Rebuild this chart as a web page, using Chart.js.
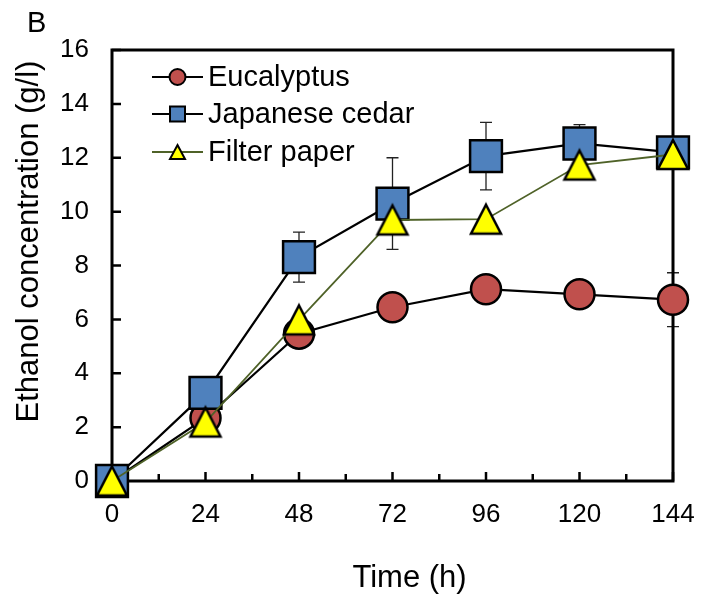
<!DOCTYPE html>
<html lang="en">
<head>
<meta charset="UTF-8">
<title>Ethanol concentration</title>
<script src="https://cdn.jsdelivr.net/npm/chart.js"></script>
<style>
  * { margin: 0; padding: 0; }
  body { background: #fff; }
  #chart { display: block; }
</style>
</head>
<body>
<canvas id="chart" width="719" height="600"></canvas>
<script>
const hours = [0, 24, 48, 72, 96, 120, 144];
const eucalyptus = [0, 2.34, 5.47, 6.45, 7.12, 6.93, 6.73];
const eucalyptusErr = [0, 0, 0, 0, 0, 0, 1.0];
const cedar = [0, 3.27, 8.31, 10.3, 12.06, 12.53, 12.2];
const cedarErr = [0, 0.6, 0.93, 1.7, 1.25, 0.7, 0];
const paper = [0, 2.19, 5.98, 9.69, 9.72, 11.73, 12.12];
const paperErr = [0, 0, 0, 0, 0, 0, 0];

const FONT = '"Liberation Sans", Arial, sans-serif';

// yellow triangle marker, centred on its bounding box
function triangle(w, h, lw) {
  const c = document.createElement('canvas');
  c.width = w + 12; c.height = h + 12;
  const ctx = c.getContext('2d');
  const cx = c.width / 2, cy = c.height / 2;
  ctx.beginPath();
  ctx.moveTo(cx, cy - h / 2);
  ctx.lineTo(cx + w / 2, cy + h / 2);
  ctx.lineTo(cx - w / 2, cy + h / 2);
  ctx.closePath();
  ctx.fillStyle = '#ffff00';
  ctx.fill();
  ctx.lineWidth = lw;
  ctx.lineJoin = 'miter';
  ctx.strokeStyle = '#000';
  ctx.stroke();
  return c;
}
const triBig = triangle(30, 29, 2.5);
const triSmall = triangle(15, 14, 2);

const pts = vals => hours.map((h, i) => ({ x: h, y: vals[i] }));

// frame, inward ticks and error bars, under the markers
const frame = {
  id: 'frame',
  beforeDatasetsDraw(chart) {
    const { ctx, chartArea: a, scales: { x, y } } = chart;
    ctx.save();
    chart.data.datasets.forEach(ds => {
      ctx.strokeStyle = '#222';
      ctx.lineWidth = 1.3;
      ds.err.forEach((e, i) => {
        if (!e) return;
        const px = x.getPixelForValue(hours[i]);
        const top = y.getPixelForValue(ds.data[i].y + e);
        const bot = y.getPixelForValue(ds.data[i].y - e);
        ctx.beginPath();
        ctx.moveTo(px, top); ctx.lineTo(px, bot);
        ctx.moveTo(px - 6, top); ctx.lineTo(px + 6, top);
        ctx.moveTo(px - 6, bot); ctx.lineTo(px + 6, bot);
        ctx.stroke();
      });
    });

    ctx.strokeStyle = '#000';
    ctx.lineWidth = 3;
    ctx.strokeRect(a.left, a.top, a.width, a.height);

    ctx.lineWidth = 2.5;
    ctx.beginPath();
    y.ticks.forEach(t => {
      const py = y.getPixelForValue(t.value);
      ctx.moveTo(a.left, py); ctx.lineTo(a.left + 9, py);
    });
    x.ticks.forEach((t, i) => {
      const px = x.getPixelForValue(t.value);
      ctx.moveTo(px, a.bottom); ctx.lineTo(px, a.bottom - 9);
      if (i > 0) {
        const mx = x.getPixelForValue((t.value + x.ticks[i - 1].value) / 2);
        ctx.moveTo(mx, a.bottom); ctx.lineTo(mx, a.bottom - 7);
      }
    });
    ctx.stroke();
    ctx.restore();
  },
  afterDraw(chart) {
    const { ctx } = chart;
    ctx.save();
    ctx.fillStyle = '#000';

    ctx.font = '29px ' + FONT;
    ctx.textAlign = 'left';
    ctx.textBaseline = 'alphabetic';
    ctx.fillText('B', 27, 32);

    ctx.font = '31px ' + FONT;
    ctx.textAlign = 'center';
    ctx.fillText('Time (h)', 409.5, 587);
    ctx.save();
    ctx.translate(38, 241.5);
    ctx.rotate(-Math.PI / 2);
    ctx.fillText('Ethanol concentration (g/l)', 0, 0);
    ctx.restore();

    // legend
    ctx.font = '29px ' + FONT;
    ctx.textAlign = 'left';
    ctx.textBaseline = 'middle';
    const rows = [77, 114, 152];
    chart.data.datasets.forEach((ds, i) => {
      const ry = rows[i];
      ctx.strokeStyle = ds.borderColor;
      ctx.lineWidth = ds.borderWidth;
      ctx.beginPath();
      ctx.moveTo(152, ry); ctx.lineTo(203, ry);
      ctx.stroke();
      ctx.strokeStyle = '#000';
      ctx.lineWidth = 2;
      ctx.fillStyle = ds.pointBackgroundColor || '#ffff00';
      if (ds.pointStyle === 'circle') {
        ctx.beginPath();
        ctx.arc(177.5, ry, 8, 0, Math.PI * 2);
        ctx.fill(); ctx.stroke();
      } else if (ds.pointStyle === 'rect') {
        ctx.fillRect(170, ry - 7.5, 15, 15);
        ctx.strokeRect(170, ry - 7.5, 15, 15);
      } else {
        ctx.drawImage(triSmall, 177.5 - triSmall.width / 2, ry - triSmall.height / 2);
      }
      ctx.fillStyle = '#000';
      ctx.fillText(ds.label, 208, ry + 1);
    });
    ctx.restore();
  }
};

new Chart(document.getElementById('chart'), {
  type: 'line',
  data: {
    datasets: [{
      label: 'Eucalyptus',
      data: pts(eucalyptus),
      err: eucalyptusErr,
      borderColor: '#000',
      borderWidth: 2.2,
      pointStyle: 'circle',
      pointRadius: 15,
      pointHoverRadius: 15,
      pointBackgroundColor: '#c0504d',
      pointBorderColor: '#000',
      pointBorderWidth: 2.5,
      order: 3,
      clip: false,
    }, {
      label: 'Japanese cedar',
      data: pts(cedar),
      err: cedarErr,
      borderColor: '#000',
      borderWidth: 2.2,
      pointStyle: 'rect',
      pointRadius: 22.5,
      pointHoverRadius: 22.5,
      pointBackgroundColor: '#4f81bd',
      pointBorderColor: '#000',
      pointBorderWidth: 2.5,
      order: 2,
      clip: false,
    }, {
      label: 'Filter paper',
      data: pts(paper),
      err: paperErr,
      borderColor: '#4f6228',
      borderWidth: 1.8,
      pointStyle: triBig,
      pointRadius: 17,
      pointHoverRadius: 17,
      order: 1,
      clip: false,
    }]
  },
  options: {
    responsive: false,
    animation: false,
    devicePixelRatio: 1,
    layout: { padding: { top: 50, right: 46, left: 0, bottom: 0 } },
    plugins: { legend: { display: false }, tooltip: { enabled: false } },
    scales: {
      x: {
        type: 'linear',
        min: 0, max: 144,
        grid: { display: false, drawTicks: false },
        border: { display: false },
        ticks: { stepSize: 24, padding: 18, color: '#000', font: { family: FONT, size: 26, lineHeight: 1.2 }, autoSkip: false, maxRotation: 0 },
        afterFit: s => { s.height = 119; }
      },
      y: {
        min: 0, max: 16,
        grid: { display: false, drawTicks: false },
        border: { display: false },
        ticks: { stepSize: 2, padding: 23, color: '#000', font: { family: FONT, size: 26, lineHeight: 1.2 } },
        afterFit: s => { s.width = 112; }
      }
    }
  },
  plugins: [frame]
});
</script>
</body>
</html>
